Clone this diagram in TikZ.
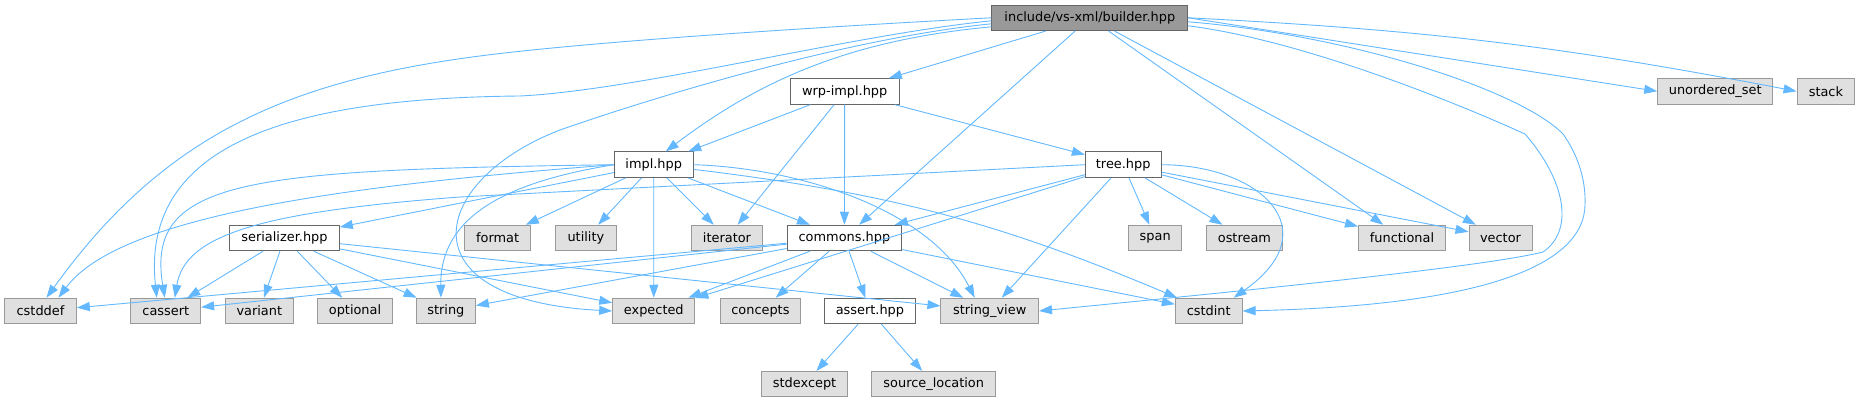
\documentclass[tikz,border=0pt]{standalone}
\usepackage{fontspec}
\setmainfont{DejaVu Sans}
\usetikzlibrary{arrows.meta}
\definecolor{edgeblue}{HTML}{63B8FF}
\definecolor{sysfill}{HTML}{E0E0E0}
\definecolor{sysline}{HTML}{999999}
\definecolor{hdrline}{HTML}{666666}
\definecolor{curfill}{HTML}{999999}

\begin{document}
\begin{tikzpicture}[x=1pt, y=1pt, >={Triangle[length=13pt,width=9pt]},
    box/.style={rectangle, minimum height=25.5pt, inner sep=0pt, line width=1pt, font=\fontsize{12.9}{15}\selectfont},
    hdr/.style={box, draw=hdrline, fill=white},
    sys/.style={box, draw=sysline, fill=sysfill},
    cur/.style={box, draw=hdrline, fill=curfill},
    dep/.style={->, draw=edgeblue, line width=0.9pt}]
        \useasboundingbox (0,0) rectangle (1860,-403);

        % Soubory projektu
        \node[cur, minimum width=195.7] (builder) at (1089.8,-17.8) {include/vs-xml/builder.hpp};
        \node[hdr, minimum width=108.7] (wrp) at (844.7,-91.5) {wrp-impl.hpp};
        \node[hdr, minimum width=78.7] (impl) at (653.7,-164.7) {impl.hpp};
        \node[hdr, minimum width=75.7] (tree) at (1123.2,-164.7) {tree.hpp};
        \node[hdr, minimum width=109.6] (ser) at (284.5,-238) {serializer.hpp};
        \node[hdr, minimum width=114.7] (commons) at (844.4,-238) {commons.hpp};
        \node[hdr, minimum width=90.5] (assert) at (869.9,-311) {assert.hpp};

        % Standardni knihovna
        \node[sys, minimum width=115] (uset) at (1715.2,-91.3) {unordered\_set};
        \node[sys, minimum width=57.7] (stack) at (1825.9,-91.3) {stack};
        \node[sys, minimum width=66.7] (format) at (497.6,-238) {format};
        \node[sys, minimum width=60.3] (utility) at (585.9,-238) {utility};
        \node[sys, minimum width=70.6] (iterator) at (727,-238) {iterator};
        \node[sys, minimum width=53] (span) at (1155.2,-238) {span};
        \node[sys, minimum width=76] (ostream) at (1244.4,-238) {ostream};
        \node[sys, minimum width=87] (functional) at (1402,-238) {functional};
        \node[sys, minimum width=63] (vector) at (1500.5,-238) {vector};
        \node[sys, minimum width=71.6] (cstddef) at (40.5,-311) {cstddef};
        \node[sys, minimum width=69.7] (cassert) at (165.8,-311) {cassert};
        \node[sys, minimum width=68] (variant) at (259.3,-311) {variant};
        \node[sys, minimum width=75.4] (optional) at (355,-311) {optional};
        \node[sys, minimum width=59] (string) at (445.9,-311) {string};
        \node[sys, minimum width=82.2] (expected) at (653.8,-311) {expected};
        \node[sys, minimum width=80.3] (concepts) at (760.4,-311) {concepts};
        \node[sys, minimum width=97.6] (sview) at (989.7,-311) {string\_view};
        \node[sys, minimum width=66.8] (cstdint) at (1208.7,-311) {cstdint};
        \node[sys, minimum width=86.6] (stdexcept) at (804.6,-384.2) {stdexcept};
        \node[sys, minimum width=124.2] (srcloc) at (933.7,-384.2) {source\_location};

        % builder.hpp
        \draw[dep] (builder.west) .. controls (800,-28) and (570,-43) .. (465,-58)
            .. controls (280,-84) and (160,-140) .. ([xshift=6]cstddef.north);
        \draw[dep] ([yshift=-3]builder.west) .. controls (850,-35) and (640,-90) .. (520,-96)
            .. controls (300,-98) and (140,-140) .. ([xshift=-9]cassert.north);
        \draw[dep] ([yshift=-6]builder.west) .. controls (850,-38) and (660,-95) .. (560,-130)
            .. controls (430,-180) and (400,-300) .. (expected.west);
        \draw[dep] ([yshift=-9]builder.west) .. controls (850,-40) and (760,-80) .. ([xshift=12]impl.north);
        \draw[dep] (builder) -- (wrp);
        \draw[dep] (builder) -- (commons);
        \draw[dep] (builder) -- (functional);
        \draw[dep] (builder) -- (vector);
        \draw[dep] (builder.east) -- (uset.west);
        \draw[dep] (builder.east) to[bend left=4] (stack.west);
        \draw[dep] ([yshift=-8]builder.east) .. controls (1300,-40) and (1450,-100) .. (1525,-134)
            .. controls (1565,-180) and (1575,-230) .. (1543,-252)
            .. controls (1480,-268) and (1200,-295) .. (sview.east);
        \draw[dep] ([yshift=-4]builder.east) .. controls (1350,-35) and (1520,-90) .. (1563,-134)
            .. controls (1578,-155) and (1586,-180) .. (1585,-205)
            .. controls (1584,-260) and (1500,-305) .. (cstdint.east);

        % wrp-impl.hpp
        \draw[dep] (wrp) -- (impl);
        \draw[dep] (wrp) -- (iterator);
        \draw[dep] (wrp) -- (commons);
        \draw[dep] (wrp) -- (tree);

        % impl.hpp
        \draw[dep] (impl.west) .. controls (350,-185) and (120,-215) .. ([xshift=18]cstddef.north);
        \draw[dep] (impl.west) .. controls (250,-170) and (145,-178) .. ([xshift=-1]cassert.north);
        \draw[dep] (impl.west) .. controls (520,-180) and (440,-210) .. ([xshift=-5]string.north);
        \draw[dep] (impl) -- (ser);
        \draw[dep] (impl) -- (format);
        \draw[dep] (impl) -- (utility);
        \draw[dep] (impl) -- (expected);
        \draw[dep] (impl) -- (iterator);
        \draw[dep] (impl) -- (commons);
        \draw[dep] (impl.east) .. controls (800,-168) and (930,-210) .. ([xshift=-15]sview.north);
        \draw[dep] (impl) to[bend left=8] (cstdint);

        % tree.hpp
        \draw[dep] (tree.west) -- (460,-197) .. controls (260,-212) and (185,-235) .. ([xshift=9]cassert.north);
        \draw[dep] (tree) -- (commons);
        \draw[dep] (tree) -- (expected);
        \draw[dep] (tree) -- (sview);
        \draw[dep] (tree) -- (span);
        \draw[dep] (tree) -- (ostream);
        \draw[dep] (tree) -- (functional);
        \draw[dep] (tree) -- (vector);
        \draw[dep] (tree.east) .. controls (1260,-165) and (1330,-230) .. ([xshift=25]cstdint.north);

        % serializer.hpp
        \draw[dep] (ser) -- (cassert);
        \draw[dep] (ser) -- (variant);
        \draw[dep] (ser) -- (optional);
        \draw[dep] (ser) -- (string);
        \draw[dep] (ser) -- (sview);
        \draw[dep] (ser) -- (expected);

        % commons.hpp
        \draw[dep] (commons) -- (cstddef);
        \draw[dep] (commons) -- (cassert);
        \draw[dep] (commons) -- (string);
        \draw[dep] (commons) -- (expected);
        \draw[dep] (commons) -- (concepts);
        \draw[dep] (commons) -- (assert);
        \draw[dep] (commons) -- (sview);
        \draw[dep] (commons) -- (cstdint);

        % assert.hpp
        \draw[dep] (assert) -- (stdexcept);
        \draw[dep] (assert) -- (srcloc);
    \end{tikzpicture}
\end{document}
